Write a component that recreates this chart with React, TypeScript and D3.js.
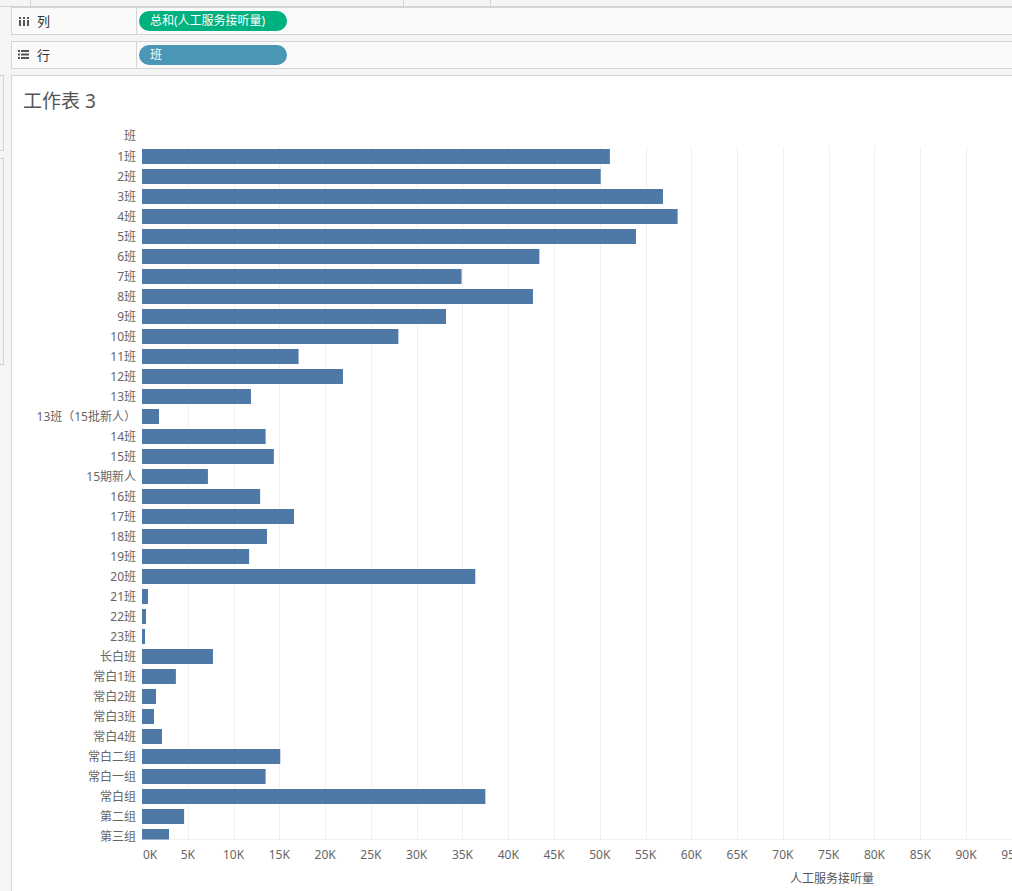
import React from "react";
import { scaleBand, scaleLinear, range } from "d3";

const classes = [
  "1班", "2班", "3班", "4班", "5班", "6班", "7班", "8班", "9班", "10班",
  "11班", "12班", "13班", "13班（15批新人）", "14班", "15班", "15期新人",
  "16班", "17班", "18班", "19班", "20班", "21班", "22班", "23班", "长白班",
  "常白1班", "常白2班", "常白3班", "常白4班", "常白二组", "常白一组",
  "常白组", "第二组", "第三组",
];

const calls = [
  51100, 50100, 56900, 58500, 53950, 43400, 34900, 42700, 33200, 28000,
  17100, 21950, 11900, 1860, 13500, 14400, 7200,
  12900, 16600, 13650, 11700, 36400, 650, 440, 330, 7750,
  3700, 1530, 1310, 2180, 15100, 13500,
  37500, 4600, 2950,
];

const xTicks = range(0, 100000, 5000);

const W = 1012;
const H = 891;
const paneLeft = 142;
const paneTop = 146.5;
const paneBottom = 839.5;

const App = () => {
  const x = scaleLinear().domain([0, 75000]).range([paneLeft, 828.7]);
  const y = scaleBand<string>()
    .domain(classes)
    .range([paneTop, paneTop + classes.length * 20])
    .paddingInner(0.25)
    .paddingOuter(0.125);

  const font = "'Noto Sans', 'Noto Sans CJK SC', sans-serif";

  return (
    <svg
      width={W}
      height={H}
      style={{ position: "absolute", left: 0, top: 0, background: "#f5f5f5" }}
      fontFamily={font}
    >
      <defs>
        <clipPath id="pane">
          <rect x={paneLeft - 1} y={paneTop} width={W} height={paneBottom - paneTop} />
        </clipPath>
      </defs>

      {/* top strip */}
      <line x1={0} y1={6.5} x2={W} y2={6.5} stroke="#d4d4d4" />
      {[30.5, 403.5, 490.5].map((d) => (
        <line key={d} x1={d} y1={0} x2={d} y2={6} stroke="#d4d4d4" />
      ))}

      {/* columns shelf */}
      <rect x={11.5} y={7.5} width={W} height={27} fill="#fafafa" stroke="#d4d4d4" />
      <line x1={136.5} y1={7.5} x2={136.5} y2={34.5} stroke="#d4d4d4" />
      {[0, 1, 2].map((i) => (
        <g key={i}>
          <rect x={19 + i * 4} y={17} width={2} height={2} fill="#555" />
          <rect x={19 + i * 4} y={20} width={2} height={6} fill="#555" />
        </g>
      ))}
      <text x={37} y={26} fontSize={13} fill="#333">列</text>
      <rect x={139} y={11} width={148} height={20} rx={10} fill="#00b180" />
      <text x={150} y={25} fontSize={12} fill="#fff">总和(人工服务接听量)</text>

      {/* rows shelf */}
      <rect x={11.5} y={41.5} width={W} height={27} fill="#fafafa" stroke="#d4d4d4" />
      <line x1={136.5} y1={41.5} x2={136.5} y2={68.5} stroke="#d4d4d4" />
      {[0, 1, 2].map((i) => (
        <g key={i}>
          <rect x={18} y={50 + i * 3.5} width={2} height={2} fill="#555" />
          <rect x={21} y={50 + i * 3.5} width={8} height={2} fill="#555" />
        </g>
      ))}
      <text x={37} y={60} fontSize={13} fill="#333">行</text>
      <rect x={139} y={45} width={148} height={20} rx={10} fill="#4a97b5" />
      <text x={150} y={59} fontSize={12} fill="#fff">班</text>

      {/* left side cards */}
      <rect x={-1} y={75.5} width={4.5} height={75} fill="#f5f5f5" stroke="#d4d4d4" />
      <rect x={-1} y={158.5} width={4.5} height={206} fill="#f5f5f5" stroke="#d4d4d4" />

      {/* sheet */}
      <rect x={11.5} y={75.5} width={W} height={H} fill="#fff" stroke="#d4d4d4" />
      <text x={23} y={108} fontSize={19} fill="#555">工作表 3</text>

      <text x={136} y={140} fontSize={12} fill="#666" textAnchor="end">班</text>

      {/* grid */}
      {xTicks.map((t) => (
        <line
          key={t}
          x1={Math.round(x(t)) + 0.5}
          x2={Math.round(x(t)) + 0.5}
          y1={paneTop}
          y2={paneBottom}
          stroke="#f0f0f0"
        />
      ))}
      <line x1={paneLeft} x2={W} y1={paneBottom} y2={paneBottom} stroke="#f0f0f0" />

      {/* bars */}
      <g clipPath="url(#pane)">
        {classes.map((c, i) => (
          <rect
            key={c}
            x={x(0)}
            y={y(c)}
            width={x(calls[i]) - x(0)}
            height={y.bandwidth()}
            fill="#4e79a7"
          />
        ))}
      </g>

      {/* row labels */}
      {classes.map((c) => (
        <text
          key={c}
          x={136}
          y={(y(c) as number) + y.bandwidth() / 2}
          dy="0.35em"
          fontSize={12}
          fill="#666"
          textAnchor="end"
        >
          {c}
        </text>
      ))}

      {/* x axis labels */}
      {xTicks.map((t, i) => (
        <text
          key={t}
          x={i === 0 ? x(t) + 1 : x(t)}
          y={859}
          fontSize={12}
          fill="#666"
          textAnchor={i === 0 ? "start" : "middle"}
        >
          {t / 1000 + "K"}
        </text>
      ))}
      <text x={832} y={883} fontSize={12} fill="#555" textAnchor="middle">
        人工服务接听量
      </text>
    </svg>
  );
};

export default App;
